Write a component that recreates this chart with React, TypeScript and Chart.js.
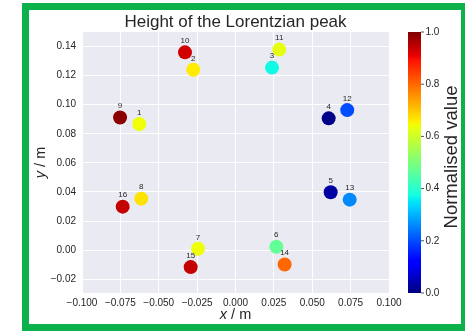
import { useEffect, useRef } from 'react';
import { Chart, registerables } from 'chart.js';

Chart.register(...registerables);

// Peak positions (m) and their normalised Lorentzian heights
const pointIds = ['1', '2', '3', '4', '5', '6', '7', '8', '9', '10', '11', '12', '13', '14', '15', '16'];
const xPos = [-0.0627, -0.0275, 0.0238, 0.0607, 0.062, 0.0266, -0.0244, -0.0614, -0.0752, -0.0329, 0.0285, 0.0728, 0.0744, 0.032, -0.0292, -0.0735];
const yPos = [0.0867, 0.124, 0.1255, 0.0906, 0.0398, 0.0023, 0.0009, 0.0354, 0.0912, 0.136, 0.1379, 0.0963, 0.0347, -0.0099, -0.0117, 0.0299];
const normValues = [0.64, 0.66, 0.37, 0.01, 0.03, 0.47, 0.64, 0.67, 0.99, 0.93, 0.63, 0.2, 0.26, 0.8, 0.94, 0.94];

const xTickValues = [-0.1, -0.075, -0.05, -0.025, 0, 0.025, 0.05, 0.075, 0.1];
const yTickValues = [-0.02, 0, 0.02, 0.04, 0.06, 0.08, 0.1, 0.12, 0.14];
const cbTickValues = [0, 0.2, 0.4, 0.6, 0.8, 1.0];

const X_MIN = -0.1;
const X_MAX = 0.1;
const Y_MIN = -0.0295;
const Y_MAX = 0.15;

const FONT = '"Liberation Sans", Arial, sans-serif';
const TEXT = '#262626';

// matplotlib "jet" colormap segments
const JET: Record<string, [number, number][]> = {
  r: [[0, 0], [0.35, 0], [0.66, 1], [0.89, 1], [1, 0.5]],
  g: [[0, 0], [0.125, 0], [0.375, 1], [0.64, 1], [0.91, 0], [1, 0]],
  b: [[0, 0.5], [0.11, 1], [0.34, 1], [0.65, 0], [1, 0]],
};
const JET_STOPS = [0, 0.11, 0.125, 0.34, 0.35, 0.375, 0.64, 0.65, 0.66, 0.89, 0.91, 1];

function segment(seg: [number, number][], v: number) {
  for (let i = 1; i < seg.length; i++) {
    const [x0, y0] = seg[i - 1];
    const [x1, y1] = seg[i];
    if (v <= x1) return y0 + ((v - x0) / (x1 - x0)) * (y1 - y0);
  }
  return seg[seg.length - 1][1];
}

function jet(v: number) {
  const t = Math.min(1, Math.max(0, v));
  const c = (k: string) => Math.round(segment(JET[k], t) * 255);
  return `rgb(${c('r')}, ${c('g')}, ${c('b')})`;
}

const fmtSigned = (v: number, d: number) => {
  const s = Math.abs(v) < 1e-12 ? (0).toFixed(d) : v.toFixed(d);
  return s.replace('-', '\u2212');
};

const decorations = {
  id: 'decorations',
  beforeDraw(chart: any) {
    const { ctx, chartArea: a } = chart;
    ctx.save();
    ctx.fillStyle = '#ffffff';
    ctx.fillRect(0, 0, chart.width, chart.height);
    ctx.fillStyle = '#eaeaf2';
    ctx.fillRect(a.left, a.top, a.right - a.left, a.bottom - a.top);
    ctx.restore();
  },
  afterDatasetsDraw(chart: any) {
    const { ctx } = chart;
    const meta = chart.getDatasetMeta(0);
    ctx.save();
    ctx.font = `8px ${FONT}`;
    ctx.fillStyle = TEXT;
    ctx.textAlign = 'center';
    ctx.textBaseline = 'middle';
    meta.data.forEach((pt: any, i: number) => {
      ctx.fillText(pointIds[i], pt.x, pt.y - 11.5);
    });
    ctx.restore();
  },
  afterDraw(chart: any) {
    const { ctx, chartArea: a } = chart;
    ctx.save();
    ctx.fillStyle = TEXT;

    // title
    ctx.font = `17px ${FONT}`;
    ctx.textAlign = 'center';
    ctx.textBaseline = 'alphabetic';
    ctx.fillText('Height of the Lorentzian peak', (a.left + a.right) / 2, 27);

    // axis titles: italic symbol followed by the unit
    const axisTitle = (sym: string, unit: string, cx: number, cy: number, rot: number) => {
      ctx.save();
      ctx.translate(cx, cy);
      ctx.rotate(rot);
      ctx.font = `italic 14.5px ${FONT}`;
      const w1 = ctx.measureText(sym).width;
      ctx.font = `14.5px ${FONT}`;
      const w2 = ctx.measureText(unit).width;
      const start = -(w1 + w2) / 2;
      ctx.textAlign = 'left';
      ctx.textBaseline = 'alphabetic';
      ctx.font = `italic 14.5px ${FONT}`;
      ctx.fillText(sym, start, 0);
      ctx.font = `14.5px ${FONT}`;
      ctx.fillText(unit, start + w1, 0);
      ctx.restore();
    };
    axisTitle('x', ' / m', (a.left + a.right) / 2, 319, 0);
    axisTitle('y', ' / m', 45, (a.top + a.bottom) / 2, -Math.PI / 2);

    // colour bar
    const cbLeft = 408;
    const cbRight = 421;
    const cbTop = a.top;
    const cbBottom = a.bottom;
    const grad = ctx.createLinearGradient(0, cbBottom, 0, cbTop);
    JET_STOPS.forEach((s) => grad.addColorStop(s, jet(s)));
    ctx.fillStyle = grad;
    ctx.fillRect(cbLeft, cbTop, cbRight - cbLeft, cbBottom - cbTop);

    ctx.strokeStyle = TEXT;
    ctx.lineWidth = 0.8;
    ctx.fillStyle = TEXT;
    ctx.font = `10px ${FONT}`;
    ctx.textAlign = 'left';
    ctx.textBaseline = 'middle';
    cbTickValues.forEach((v) => {
      const y = cbBottom - v * (cbBottom - cbTop);
      ctx.beginPath();
      ctx.moveTo(cbRight, y);
      ctx.lineTo(cbRight + 3, y);
      ctx.stroke();
      ctx.fillText(v.toFixed(1), cbRight + 4.5, y);
    });

    ctx.save();
    ctx.translate(457, 157);
    ctx.rotate(-Math.PI / 2);
    ctx.font = `18.5px ${FONT}`;
    ctx.textAlign = 'center';
    ctx.textBaseline = 'alphabetic';
    ctx.fillText('Normalised value', 0, 0);
    ctx.restore();

    // green frame around the figure
    ctx.fillStyle = '#0cb14b';
    ctx.fillRect(22, 3, 7, 328);
    ctx.fillRect(22, 3, 443, 7);
    ctx.fillRect(461, 3, 4, 328);
    ctx.fillRect(22, 324, 443, 7);
    ctx.restore();
  },
};

export default function App() {
  const canvasRef = useRef<HTMLCanvasElement | null>(null);

  useEffect(() => {
    const canvas = canvasRef.current;
    if (!canvas) return;
    const chart = new Chart(canvas, {
      type: 'scatter',
      data: {
        datasets: [
          {
            data: xPos.map((x, i) => ({ x, y: yPos[i] })),
            backgroundColor: normValues.map(jet),
            borderWidth: 0,
            pointRadius: 7,
            pointHoverRadius: 7,
          },
        ],
      },
      options: {
        responsive: false,
        animation: false,
        devicePixelRatio: 1,
        events: [],
        layout: { padding: { left: 0, top: 32, right: 76, bottom: 0 } },
        plugins: {
          legend: { display: false },
          tooltip: { enabled: false },
          title: { display: false },
        },
        scales: {
          x: {
            type: 'linear',
            min: X_MIN,
            max: X_MAX,
            afterBuildTicks: (s: any) => {
              s.ticks = xTickValues.map((value) => ({ value }));
            },
            afterFit: (s: any) => {
              s.height = 40;
            },
            grid: { color: '#ffffff', lineWidth: 1, drawTicks: false },
            border: { display: false },
            ticks: {
              padding: 4,
              autoSkip: false,
              maxRotation: 0,
              color: TEXT,
              font: { family: FONT, size: 10 },
              callback: (v: any) => fmtSigned(Number(v), 3),
            },
          },
          y: {
            type: 'linear',
            min: Y_MIN,
            max: Y_MAX,
            afterBuildTicks: (s: any) => {
              s.ticks = yTickValues.map((value) => ({ value }));
            },
            afterFit: (s: any) => {
              s.width = 82;
            },
            grid: { color: '#ffffff', lineWidth: 1, drawTicks: false },
            border: { display: false },
            ticks: {
              padding: 6,
              autoSkip: false,
              color: TEXT,
              font: { family: FONT, size: 10 },
              callback: (v: any) => fmtSigned(Number(v), 2),
            },
          },
        },
      },
      plugins: [decorations],
    } as any);
    return () => chart.destroy();
  }, []);

  return (
    <div style={{ position: 'fixed', left: 0, top: 0, width: 465, height: 333, background: '#fff' }}>
      <canvas ref={canvasRef} width={465} height={333} style={{ display: 'block' }} />
    </div>
  );
}
